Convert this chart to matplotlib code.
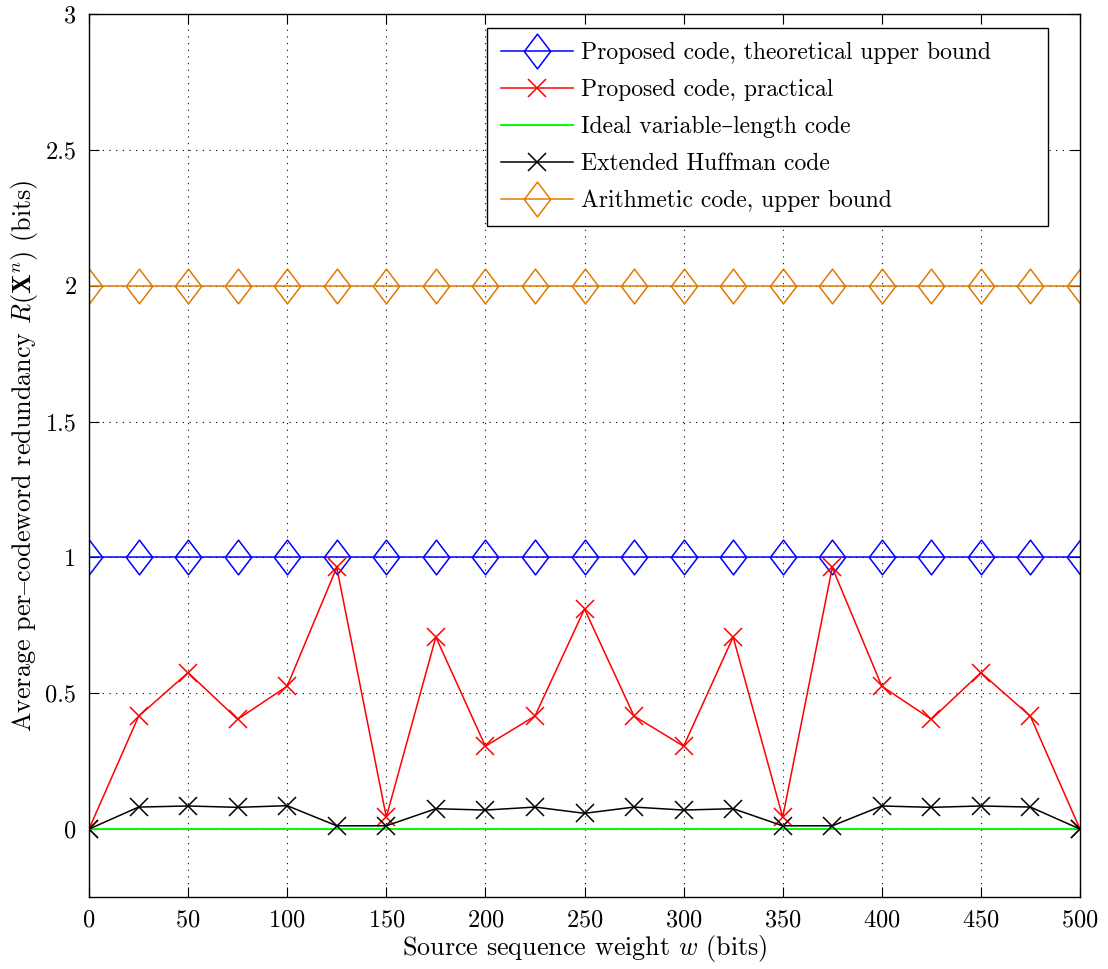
import matplotlib
matplotlib.use("Agg")
import matplotlib.pyplot as plt
from matplotlib.path import Path
import numpy as np

plt.rcParams['font.family'] = ['cmr10', 'DejaVu Serif']
plt.rcParams['mathtext.fontset'] = 'cm'
plt.rcParams['axes.formatter.use_mathtext'] = True
plt.rcParams['font.size'] = 17

# Source sequence weights w (bits)
weights = np.arange(0, 501, 25)

# Redundancy per codeword (bits)
upper_bound = [1.0] * len(weights)
practical = [0.0, 0.415, 0.576, 0.404, 0.526, 0.963, 0.044, 0.707, 0.305, 0.416, 0.81,
             0.416, 0.305, 0.707, 0.044, 0.963, 0.526, 0.404, 0.576, 0.415, 0.0]
ideal = [0.0] * len(weights)
huffman = [0.0, 0.081, 0.085, 0.080, 0.086, 0.012, 0.012, 0.075, 0.070, 0.081, 0.058,
           0.081, 0.070, 0.075, 0.012, 0.012, 0.085, 0.080, 0.085, 0.081, 0.0]
arithmetic = [2.0] * len(weights)

labels = ['Proposed code, theoretical upper bound',
          'Proposed code, practical',
          'Ideal variable–length code',
          'Extended Huffman code',
          'Arithmetic code, upper bound']

# MATLAB-like diamond marker
diamond = Path([(0, 1), (0.76, 0), (0, -1), (-0.76, 0), (0, 1)],
               [Path.MOVETO, Path.LINETO, Path.LINETO, Path.LINETO, Path.CLOSEPOLY])

fig = plt.figure(figsize=(11.08, 9.69), dpi=100)
ax = fig.add_axes([89 / 1108, 1 - 897 / 969, (1080 - 89) / 1108, (897 - 14) / 969])

ax.plot(weights, upper_bound, color='#0000ff', lw=1.1, marker=diamond, ms=25,
        mfc='none', mew=1.1, label=labels[0])
ax.plot(weights, practical, color='#ff0000', lw=1.1, marker='x', ms=13,
        mew=1.1, label=labels[1])
ax.plot(weights, ideal, color='#00ff00', lw=1.4, label=labels[2])
ax.plot(weights, huffman, color='#000000', lw=1.1, marker='x', ms=13,
        mew=1.1, label=labels[3])
ax.plot(weights, arithmetic, color='#e07b00', lw=1.1, marker=diamond, ms=25,
        mfc='none', mew=1.1, label=labels[4])

ax.set_xlim(0, 500)
ax.set_ylim(-0.25, 3)
ax.set_xticks(np.arange(0, 501, 50))
ax.set_yticks([0, 0.5, 1, 1.5, 2, 2.5, 3])
ax.set_yticklabels(['0', '0.5', '1', '1.5', '2', '2.5', '3'])
ax.tick_params(direction='in', length=7, width=0.8, top=True, right=True, pad=9,
               labelsize=17.5)
ax.grid(True, color='black', linestyle=(0, (1, 5)), linewidth=0.8)
for s in ax.spines.values():
    s.set_linewidth(1.0)

ax.set_xlabel(r'Source sequence weight $w$ (bits)', fontsize=18.8, labelpad=1)
ax.set_ylabel(r'Average per$–$codeword redundancy $R(\mathbf{X}^n)$ (bits)',
              fontsize=18.8, labelpad=4)

# legend box spans a fixed region, text is left aligned inside
leg = ax.legend(loc='upper left', bbox_to_anchor=(0.4016, 0.761, 0.5661, 0.2231),
                mode='expand', fancybox=False, edgecolor='black', framealpha=1,
                handlelength=3.05, handletextpad=0.35, labelspacing=0.625,
                borderpad=0.6, borderaxespad=0, fontsize=17)
leg.get_frame().set_linewidth(1.0)

fig.savefig('out.png', dpi=100)
